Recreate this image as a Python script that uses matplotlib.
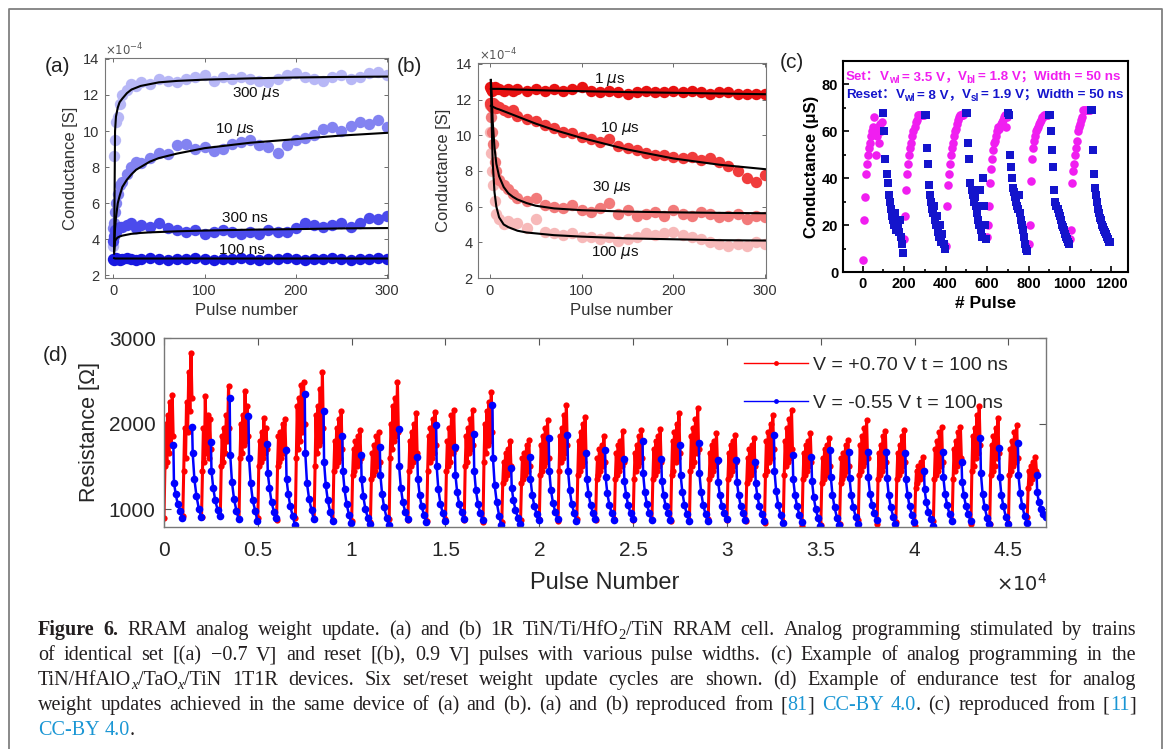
import re
import numpy as np
import matplotlib
matplotlib.use('Agg')
import matplotlib.pyplot as plt
from matplotlib.lines import Line2D

plt.rcParams['font.family'] = ['Liberation Sans', 'DejaVu Sans']

# ---------------- data ----------------
# (a), (b): conductance in units of 1e-4 S
pulse_ab = [0, 1, 2, 3, 5, 7, 10, 15, 20, 25, 30, 40, 50, 60, 70, 80, 90, 100, 110, 120,
            130, 140, 150, 160, 170, 180, 190, 200, 210, 220, 230, 240, 250, 260, 270, 280, 290, 300]
a_300us = [3.6, 8.6, 9.5, 10.5, 10.8, 11.5, 12.0, 12.3, 12.6, 12.5, 12.7,
           12.6, 12.9, 12.8, 12.7, 12.9, 13.0, 13.1,
           12.8, 13.0, 12.9, 13.0, 12.9, 12.8, 12.7, 12.9, 13.1, 13.2,
           13.0, 12.9, 12.8, 13.0, 13.1, 12.9, 13.0, 13.2, 13.3, 13.1]
a_10us = [4.6, 4.9, 5.5, 6.0, 6.5, 7.0, 7.2, 7.6, 8.0, 8.3, 8.2,
          8.5, 8.8, 8.7, 9.2, 9.3, 9.0, 9.1,
          8.9, 9.0, 9.3, 9.4, 9.5, 9.2, 9.1, 8.8, 9.2, 9.5,
          9.6, 9.8, 10.1, 10.2, 10.0, 10.3, 10.5, 10.4, 10.6, 10.2]
a_300ns = [3.9, 4.2, 4.5, 4.4, 4.6, 4.7, 4.7, 4.8, 4.9, 4.6, 4.8,
           4.7, 4.9, 4.6, 4.5, 4.4, 4.5, 4.3,
           4.4, 4.5, 4.4, 4.3, 4.4, 4.3, 4.5, 4.4, 4.4, 4.6,
           4.9, 4.8, 4.7, 4.8, 4.9, 4.7, 4.9, 5.2, 5.1, 5.3]
a_100ns = [2.9, 2.85, 2.9, 2.95, 2.9, 2.85, 2.9, 2.95, 2.9, 2.85, 2.9,
           2.95, 2.9, 2.85, 2.9, 2.9, 2.95, 2.9,
           2.85, 2.9, 2.9, 2.95, 2.9, 2.85, 2.9, 2.9, 2.95, 2.9,
           2.85, 2.9, 2.9, 2.95, 2.9, 2.85, 2.9, 2.9, 2.95, 2.9]
b_1us = [12.7, 12.6, 12.5, 12.6, 12.7, 12.6, 12.6, 12.5, 12.6, 12.5, 12.6,
         12.5, 12.6, 12.5, 12.6, 12.5, 12.6, 12.7,
         12.5, 12.4, 12.5, 12.4, 12.3, 12.4, 12.5, 12.4, 12.4, 12.5,
         12.4, 12.5, 12.4, 12.3, 12.4, 12.4, 12.3, 12.3, 12.3, 12.3]
b_10us = [11.8, 11.7, 11.6, 11.8, 11.7, 11.5, 11.6, 11.4, 11.3, 11.4, 11.1,
          10.9, 10.8, 10.6, 10.4, 10.2, 10.1, 9.9,
          9.8, 9.6, 9.8, 9.4, 9.3, 9.2, 9.0, 8.9, 8.9, 8.8,
          8.7, 8.8, 8.6, 8.7, 8.5, 8.3, 8.0, 7.6, 7.4, 7.8]
b_30us = [11.7, 11.0, 10.2, 9.5, 8.5, 8.0, 7.5, 7.2, 7.0, 6.7, 6.5,
          6.3, 6.5, 6.1, 6.0, 5.9, 6.1, 5.8,
          5.7, 5.9, 6.2, 5.6, 5.8, 5.5, 5.6, 5.7, 5.5, 5.8,
          5.6, 5.5, 5.7, 5.6, 5.4, 5.5, 5.6, 5.3, 5.5, 5.4]
b_100us = [10.2, 9.0, 8.0, 7.2, 6.3, 5.6, 5.3, 5.0, 5.2, 5.0, 5.1,
           4.8, 5.3, 4.6, 4.5, 4.4, 4.5, 4.3,
           4.3, 4.2, 4.3, 4.1, 4.2, 4.3, 4.5, 4.4, 4.5, 4.6,
           4.4, 4.3, 4.2, 4.0, 3.9, 3.8, 3.9, 3.8, 4.0, 3.9]

fit_x = [1, 2, 3, 5, 7, 10, 15, 20, 25, 30, 40, 50, 70, 100, 150, 200, 250, 300]
a_fit_300us = [3.2, 10.0, 10.8, 11.3, 11.6, 11.8, 12.1, 12.3, 12.4, 12.5, 12.6, 12.7, 12.78, 12.85, 12.92, 12.97, 13.0, 13.02]
a_fit_10us = [3.4, 4.6, 5.2, 6.0, 6.4, 6.9, 7.3, 7.6, 7.85, 8.0, 8.3, 8.5, 8.75, 9.05, 9.35, 9.55, 9.75, 9.9]
a_fit_300ns = [3.3, 3.9, 4.0, 4.1, 4.15, 4.2, 4.25, 4.3, 4.32, 4.35, 4.38, 4.4, 4.44, 4.48, 4.53, 4.56, 4.6, 4.62]
a_fit_100ns = [2.95, 2.93, 2.93, 2.93, 2.93, 2.93, 2.93, 2.93, 2.93, 2.93, 2.93, 2.93, 2.93, 2.93, 2.93, 2.93, 2.93, 2.93]
b_fit_1us = [12.6, 12.6, 12.6, 12.6, 12.6, 12.6, 12.59, 12.58, 12.57, 12.56, 12.55, 12.53, 12.5, 12.47, 12.42, 12.38, 12.34, 12.3]
b_fit_10us = [11.65, 11.62, 11.6, 11.55, 11.5, 11.45, 11.35, 11.25, 11.15, 11.05, 10.85, 10.65, 10.3, 9.85, 9.2, 8.7, 8.35, 8.1]
b_fit_30us = [13.1, 12.2, 10.8, 9.3, 8.4, 7.7, 7.1, 6.75, 6.55, 6.4, 6.2, 6.05, 5.9, 5.8, 5.72, 5.68, 5.65, 5.63]
b_fit_100us = [13.1, 10.5, 8.5, 6.8, 6.0, 5.4, 5.0, 4.85, 4.75, 4.65, 4.55, 4.5, 4.4, 4.32, 4.22, 4.17, 4.12, 4.1]

# (c): conductance in uS, six set/reset cycles of 200 pulses
c_cycle_start = [0, 200, 400, 600, 800, 1000]
c_offset = [0, 5, 10, 15, 20, 25, 30, 35, 40, 45, 50, 55, 60, 65, 70, 75, 80, 85, 90, 95]
c_set_us = [
    [5, 22, 32, 42, 46, 50, 53, 55, 58, 60, 62, 66, 60, 50, 58, 62, 55, 63, 60, 64],
    [14, 24, 35, 42, 46, 50, 53, 55, 58, 60, 62, 64, 65, 67, 67, 67, 67, 67, 67, 67],
    [11, 28, 37, 42, 46, 50, 53, 55, 58, 60, 61, 63, 65, 66, 67, 67, 67, 67, 68, 68],
    [15, 20, 28, 38, 44, 48, 52, 55, 56, 58, 60, 62, 61, 63, 64, 65, 66, 67, 62, 66],
    [12, 20, 39, 48, 53, 56, 58, 60, 61, 62, 63, 64, 65, 66, 66, 67, 67, 67, 67, 67],
    [14, 18, 38, 43, 46, 50, 53, 56, 60, 62, 63, 65, 66, 69, 69, 69, 69, 69, 69, 69],
]
c_reset_us = [
    [68, 60, 48, 42, 38, 33, 30, 27, 24, 22, 20, 25, 18, 21, 19, 17, 22, 15, 12, 8],
    [67, 67, 53, 46, 37, 33, 30, 27, 25, 28, 22, 20, 24, 17, 15, 20, 13, 16, 12, 10],
    [68, 68, 55, 48, 38, 35, 33, 30, 32, 28, 25, 22, 20, 35, 18, 15, 40, 28, 20, 14],
    [68, 67, 50, 45, 40, 36, 34, 32, 30, 28, 27, 33, 25, 22, 20, 18, 15, 12, 10, 9],
    [67, 67, 60, 52, 45, 35, 30, 28, 27, 25, 24, 22, 20, 19, 18, 16, 15, 14, 13, 12],
    [69, 69, 52, 42, 36, 33, 30, 27, 25, 23, 22, 20, 19, 18, 17, 16, 15, 14, 13, 13],
]

# (d): resistance in ohm, 47 cycles of 1000 pulses (500 set, 500 reset)
d_set_pos = [0, 50, 100, 150, 200, 260, 320, 380, 440, 490]
d_reset_pos = [500, 530, 620, 730, 860, 980]
d_set_ohm = [
    [900, 1500, 2000, 1550, 2100, 1650, 2250, 1750, 2330, 1850],
    [920, 1450, 1950, 1600, 2250, 1900, 2600, 2150, 2820, 2300],
    [910, 1450, 1950, 1550, 2320, 1650, 2100, 1600, 2050, 1700],
    [920, 1500, 1850, 1550, 1950, 1650, 2100, 1800, 2440, 1950],
    [880, 1600, 2000, 1650, 2100, 1750, 2380, 1800, 2200, 1850],
    [890, 1500, 1800, 1550, 1900, 1600, 2060, 1650, 1950, 1700],
    [870, 1500, 1850, 1550, 1900, 1600, 2000, 1650, 2050, 1700],
    [900, 1600, 2200, 1700, 2300, 1800, 2450, 1900, 2490, 2000],
    [880, 1500, 2100, 1650, 2200, 1750, 2400, 1800, 2600, 1950],
    [870, 1450, 1800, 1500, 1950, 1550, 2050, 1600, 2150, 1700],
    [860, 1400, 1700, 1450, 1800, 1500, 1850, 1550, 1920, 1600],
    [850, 1350, 1650, 1400, 1750, 1450, 1850, 1500, 1900, 1550],
    [880, 1600, 2000, 1700, 2200, 1800, 2300, 1850, 2490, 1900],
    [870, 1450, 1800, 1500, 1900, 1550, 2000, 1600, 2120, 1650],
    [860, 1450, 1850, 1550, 1950, 1600, 2050, 1650, 2140, 1750],
    [880, 1450, 1800, 1500, 1950, 1550, 2100, 1650, 2160, 1700],
    [870, 1500, 1850, 1550, 1950, 1650, 2050, 1700, 2160, 1750],
    [850, 1550, 2000, 1650, 2150, 1750, 2250, 1800, 2370, 1900],
    [850, 1300, 1550, 1350, 1650, 1400, 1700, 1450, 1790, 1500],
    [870, 1300, 1600, 1350, 1650, 1400, 1750, 1450, 1810, 1500],
    [880, 1400, 1750, 1450, 1850, 1500, 1950, 1550, 2040, 1600],
    [860, 1450, 1850, 1550, 1950, 1600, 2100, 1650, 2220, 1750],
    [880, 1400, 1800, 1450, 1900, 1500, 2000, 1550, 2080, 1650],
    [870, 1350, 1600, 1400, 1700, 1450, 1750, 1500, 1850, 1550],
    [880, 1350, 1650, 1400, 1750, 1450, 1800, 1500, 1910, 1550],
    [870, 1350, 1650, 1450, 1750, 1500, 1850, 1550, 1920, 1600],
    [870, 1350, 1700, 1400, 1800, 1450, 1850, 1500, 1940, 1550],
    [860, 1400, 1800, 1450, 1900, 1550, 2000, 1600, 2120, 1650],
    [860, 1450, 1850, 1500, 1950, 1550, 2050, 1650, 2180, 1700],
    [880, 1350, 1650, 1400, 1750, 1450, 1800, 1500, 1890, 1550],
    [870, 1350, 1650, 1400, 1750, 1450, 1800, 1500, 1870, 1550],
    [860, 1300, 1600, 1350, 1700, 1400, 1750, 1450, 1830, 1500],
    [840, 1400, 1800, 1450, 1900, 1550, 2000, 1600, 2100, 1700],
    [850, 1400, 1800, 1500, 1950, 1550, 2050, 1600, 2160, 1700],
    [800, 1350, 1650, 1400, 1750, 1450, 1800, 1500, 1890, 1550],
    [810, 1300, 1600, 1350, 1700, 1400, 1750, 1450, 1830, 1500],
    [830, 1300, 1600, 1350, 1650, 1400, 1750, 1450, 1810, 1500],
    [870, 1400, 1750, 1450, 1850, 1500, 1950, 1550, 2040, 1600],
    [830, 1350, 1650, 1400, 1750, 1450, 1850, 1500, 1910, 1550],
    [850, 1350, 1650, 1400, 1750, 1450, 1850, 1500, 1920, 1550],
    [800, 1250, 1450, 1300, 1500, 1350, 1550, 1400, 1610, 1450],
    [860, 1350, 1700, 1400, 1800, 1450, 1900, 1500, 1960, 1550],
    [860, 1350, 1700, 1450, 1800, 1500, 1900, 1550, 1960, 1600],
    [820, 1450, 1850, 1500, 1950, 1600, 2100, 1650, 2200, 1750],
    [830, 1400, 1750, 1450, 1850, 1500, 1950, 1600, 2060, 1650],
    [840, 1400, 1700, 1450, 1800, 1500, 1900, 1550, 1980, 1600],
    [910, 1250, 1450, 1300, 1500, 1350, 1550, 1400, 1610, 1450],
]
d_reset_ohm = [
    [1750, 1310, 1180, 1060, 980, 900], [1960, 1650, 1350, 1150, 1000, 910],
    [1780, 1450, 1250, 1100, 990, 920], [2300, 1630, 1320, 1120, 980, 880],
    [2090, 1600, 1300, 1100, 980, 860], [1760, 1420, 1250, 1080, 970, 900],
    [1690, 1350, 1180, 1030, 920, 810], [2350, 1650, 1300, 1120, 990, 880],
    [2150, 1550, 1280, 1100, 960, 860], [1850, 1450, 1230, 1060, 930, 840],
    [1630, 1350, 1150, 1000, 900, 820], [1730, 1400, 1180, 1020, 900, 810],
    [1940, 1500, 1250, 1080, 960, 880], [1610, 1350, 1170, 1030, 930, 850],
    [1980, 1500, 1230, 1060, 950, 860], [1730, 1400, 1200, 1060, 960, 880],
    [1880, 1450, 1220, 1060, 950, 870], [2220, 1600, 1280, 1080, 920, 810],
    [1480, 1250, 1100, 990, 900, 830], [1610, 1350, 1170, 1040, 940, 870],
    [1830, 1450, 1220, 1070, 960, 880], [1870, 1450, 1220, 1060, 950, 860],
    [1650, 1350, 1180, 1050, 950, 880], [1690, 1380, 1190, 1050, 950, 870],
    [1590, 1330, 1170, 1050, 950, 880], [1790, 1420, 1200, 1060, 950, 870],
    [1590, 1330, 1160, 1040, 950, 870], [1750, 1400, 1200, 1050, 940, 860],
    [1770, 1420, 1200, 1050, 940, 860], [1570, 1320, 1160, 1040, 950, 880],
    [1570, 1320, 1160, 1040, 950, 870], [1550, 1300, 1150, 1030, 940, 860],
    [1870, 1450, 1210, 1050, 930, 840], [1630, 1350, 1170, 1040, 930, 850],
    [1610, 1330, 1140, 1000, 890, 800], [1690, 1380, 1170, 1020, 900, 810],
    [1670, 1360, 1160, 1020, 910, 830], [1670, 1370, 1180, 1050, 950, 870],
    [1670, 1360, 1160, 1020, 910, 830], [1650, 1350, 1170, 1030, 930, 850],
    [1440, 1230, 1080, 970, 880, 800], [1670, 1370, 1180, 1050, 940, 860],
    [1550, 1320, 1160, 1040, 940, 860], [1830, 1420, 1180, 1020, 900, 820],
    [1710, 1380, 1170, 1030, 910, 830], [1770, 1400, 1190, 1040, 920, 840],
    [1400, 1200, 1080, 1000, 940, 910],
]

caption_lines = [
    "*Figure* *6.*  RRAM analog weight update. (a) and (b) 1R TiN/Ti/HfO_2/TiN RRAM cell. Analog programming stimulated by trains",
    "of identical set [(a) \u22120.7 V] and reset [(b), 0.9 V] pulses with various pulse widths. (c) Example of analog programming in the",
    "TiN/HfAlO_x/TaO_x/TiN 1T1R devices. Six set/reset weight update cycles are shown. (d) Example of endurance test for analog",
    "weight updates achieved in the same device of (a) and (b). (a) and (b) reproduced from [<81>] <CC-BY> <4.0>. (c) reproduced from [<11>]",
    "<CC-BY> <4.0>.",
]

# ---------------- figure ----------------
W, H = 1170, 749
fig = plt.figure(figsize=(W / 100, H / 100), dpi=100)
renderer = fig.canvas.get_renderer()


def px_axes(left, top, right, bottom):
    return fig.add_axes([left / W, 1 - bottom / H, (right - left) / W, (bottom - top) / H])


def put_runs(x, y, runs, **common):
    # place text pieces one after another, x/y in pixels from the top left
    made = []
    for item in runs:
        if not isinstance(item, tuple):
            x += item
            continue
        s, kw = item
        kw = dict(common, **kw)
        dy = kw.pop('dy', 0)
        t = fig.text(x / W, 1 - (y - dy) / H, s, ha='left', va='baseline', **kw)
        made.append(t)
        x += t.get_window_extent(renderer).width
    return x, made


def matlab_axes(ax, xlim, ylim):
    ax.set_xlim(*xlim)
    ax.set_ylim(*ylim)
    ax.set_xticks([0, 100, 200, 300])
    ax.set_yticks([2, 4, 6, 8, 10, 12, 14])
    ax.tick_params(direction='in', length=3, width=0.6, color='#555555', labelsize=10.5,
                   labelcolor='#333333', top=True, right=True, pad=4)
    for sp in ax.spines.values():
        sp.set_color('#777777')
        sp.set_linewidth(0.8)
    ax.set_xlabel('Pulse number', fontsize=12, color='#333333', labelpad=4)
    ax.set_ylabel('Conductance [S]', fontsize=12, color='#333333', labelpad=4)


mk = dict(linestyle='none', marker='o', markersize=8.2, markeredgewidth=0)

# (a)
ax_a = px_axes(105, 58, 388, 278)
for vals, col in [(a_300us, '#b7b7f6'), (a_10us, '#8383f1'), (a_300ns, '#4b4bec'), (a_100ns, '#1818e0')]:
    ax_a.plot(pulse_ab, vals, color=col, **mk)
for fit in [a_fit_300us, a_fit_10us, a_fit_300ns, a_fit_100ns]:
    ax_a.plot(fit_x, fit, color='black', lw=1.5)
matlab_axes(ax_a, (-9, 301), (1.85, 14.05))
for txt, x, y in [('300 $\\mu$s', 157, 12.1), ('10 $\\mu$s', 133, 10.1), ('300 ns', 144, 5.2), ('100 ns', 141, 3.4)]:
    ax_a.text(x, y, txt, ha='center', va='center', fontsize=11, color='#111111')

# (b)
ax_b = px_axes(478, 63, 766, 278)
for vals, col in [(b_100us, '#f7b9b9'), (b_30us, '#f27a7a'), (b_10us, '#f03c3c'), (b_1us, '#e81212')]:
    ax_b.plot(pulse_ab, vals, color=col, **mk)
for fit in [b_fit_1us, b_fit_10us, b_fit_30us, b_fit_100us]:
    ax_b.plot(fit_x, fit, color='black', lw=1.5)
matlab_axes(ax_b, (-13, 301), (2.0, 14.05))
for txt, x, y in [('1 $\\mu$s', 131, 13.1), ('10 $\\mu$s', 142, 10.4), ('30 $\\mu$s', 133, 7.1), ('100 $\\mu$s', 137, 3.45)]:
    ax_b.text(x, y, txt, ha='center', va='center', fontsize=11, color='#111111')

for x0, y0 in [(105, 50), (479, 55)]:
    fig.text(x0 / W, 1 - y0 / H, r'$\times10^{-4}$', fontsize=8.5, color='#555555', va='center')

# (c)
ax_c = px_axes(843, 61, 1128, 272)
for start, vals in zip(c_cycle_start, c_set_us):
    ax_c.scatter([start + o for o in c_offset], vals, s=38, color='#f01ef0', marker='o', linewidths=0)
for start, vals in zip(c_cycle_start, c_reset_us):
    ax_c.scatter([start + 100 + o for o in c_offset], vals, s=30, color='#1414cc', marker='s', linewidths=0)
ax_c.set_xlim(-95, 1280)
ax_c.set_ylim(0, 90)
ax_c.set_xticks([0, 200, 400, 600, 800, 1000, 1200])
ax_c.set_yticks([0, 20, 40, 60, 80])
ax_c.set_xticks([100, 300, 500, 700, 900, 1100], minor=True)
ax_c.set_yticks([10, 30, 50, 70], minor=True)
ax_c.tick_params(which='both', direction='in', width=1.2, color='black', labelsize=10.5)
ax_c.tick_params(which='major', length=4)
ax_c.tick_params(which='minor', length=2)
for lbl in ax_c.get_xticklabels() + ax_c.get_yticklabels():
    lbl.set_fontweight('bold')
for sp in ax_c.spines.values():
    sp.set_linewidth(1.5)
ax_c.set_xlabel('# Pulse', fontsize=12.5, fontweight='bold', labelpad=4)
ax_c.set_ylabel('Conductance (\u03bcS)', fontsize=12, fontweight='bold', labelpad=2)

cjk = ['Liberation Sans', 'Noto Sans CJK SC']
sub = {'fontsize': 7.2, 'dy': -3}
put_runs(846, 80, [('Set\uff1a', {}), 0, ('V', {}), ('wl', sub), 2, ('= 3.5 V\uff0c', {}), 0,
                   ('V', {}), ('bl', sub), 2, ('= 1.8 V\uff1b', {}), 0, ('Width = 50 ns', {})],
         family=cjk, fontsize=9.6, fontweight='bold', color='#f01ef0')
put_runs(846, 98, [('Reset\uff1a', {}), 0, ('V', {}), ('wl', sub), 2, ('= 8 V\uff0c', {}), 0,
                   ('V', {}), ('sl', sub), 2, ('= 1.9 V\uff1b', {}), 0, ('Width = 50 ns', {})],
         family=cjk, fontsize=9.6, fontweight='bold', color='#1414cc')

# (d)
ax_d = px_axes(164, 338, 1046, 527)
red_x, red_y, blue_x, blue_y = [], [], [], []
for k, (sv, rv) in enumerate(zip(d_set_ohm, d_reset_ohm)):
    red_x += [1000 * k + p for p in d_set_pos] + [np.nan]
    red_y += sv + [np.nan]
    blue_x += [1000 * k + p for p in d_reset_pos] + [np.nan]
    blue_y += rv + [np.nan]
ax_d.plot(red_x, red_y, color='#ff0000', lw=2.2, marker='o', markersize=4.5, markeredgewidth=0,
          label='V = +0.70 V t = 100 ns')
ax_d.plot(blue_x, blue_y, color='#0000ff', lw=1.8, marker='o', markersize=5.5, markeredgewidth=0,
          label='V = -0.55 V t = 100 ns')
ax_d.set_xlim(0, 47000)
ax_d.set_ylim(790, 3000)
ax_d.set_yticks([1000, 2000, 3000])
ax_d.set_xticks(np.arange(0, 45001, 5000), ['0', '0.5', '1', '1.5', '2', '2.5', '3', '3.5', '4', '4.5'])
ax_d.tick_params(direction='in', length=5, width=0.8, color='#555555', labelsize=15,
                 labelcolor='#262626', top=True, right=True)
ax_d.tick_params(axis='x', pad=10)
ax_d.tick_params(axis='y', pad=6)
for sp in ax_d.spines.values():
    sp.set_color('#777777')
    sp.set_linewidth(1.0)
ax_d.set_xlabel('Pulse Number', fontsize=17, color='#262626', labelpad=9)
ax_d.set_ylabel('Resistance [\u03a9]', fontsize=15.5, color='#262626', labelpad=6)
fig.text(1022 / W, 1 - 584 / H, r'$\times10^{4}$', fontsize=14, color='#262626', ha='center', va='center')
leg = ax_d.legend(loc='upper left', bbox_to_anchor=(744 / W, 1 - 356 / H), bbox_transform=fig.transFigure,
                  frameon=False, fontsize=14, handlelength=3.3, handletextpad=0.25, labelspacing=1.05,
                  borderpad=0, borderaxespad=0, numpoints=1, labelcolor='#262626')
for hl in leg.get_lines():
    hl.set_linewidth(1.0)
    hl.set_markersize(3.5)

# panel letters
for lab, x, y in [('(a)', 58, 66), ('(b)', 409, 66), ('(c)', 792, 63), ('(d)', 55, 356)]:
    fig.text(x / W, 1 - y / H, lab, fontsize=15, ha='center', va='center', color='#222222')

# caption
CAP_FS = 14.5
cap_common = dict(family='Liberation Serif', fontsize=CAP_FS, color='#231f20')


def cap_runs(word):
    runs = []
    for tok in re.findall(r'\*[^*]+\*|<[^>]+>|_[0-9x]|[^*<_]+', word):
        if tok.startswith('*'):
            runs.append((tok[1:-1], {'fontweight': 'bold'}))
        elif tok.startswith('<'):
            runs.append((tok[1:-1], {'color': '#1a96d4'}))
        elif tok.startswith('_'):
            kw = {'fontsize': CAP_FS * 0.72, 'dy': -4}
            if tok[1] == 'x':
                kw['fontstyle'] = 'italic'
            runs.append((tok[1:], kw))
        else:
            runs.append((tok, {}))
    return runs


cap_x0, cap_x1 = 38, 1136
cap_base = [635, 660, 685, 710, 735]
for i, line in enumerate(caption_lines):
    words = []
    for w in line.split():
        end, made = put_runs(0, cap_base[i], cap_runs(w), **cap_common)
        words.append((end, made))
    total = sum(e for e, _ in words)
    if i < len(caption_lines) - 1 and len(words) > 1:
        gap = max((cap_x1 - cap_x0 - total) / (len(words) - 1), 1.0)
    else:
        gap = CAP_FS * 100 / 72 * 0.25
    x = cap_x0
    for end, made in words:
        for t in made:
            t.set_x(t.get_position()[0] + x / W)
        x += end + gap

# outer frame
fig.add_artist(Line2D([9 / W, 9 / W, 1162 / W, 1162 / W], [0, 1 - 9 / H, 1 - 9 / H, 0],
                      transform=fig.transFigure, color='#808080', lw=1.3))

fig.savefig('out.png', dpi=100, facecolor='white')
